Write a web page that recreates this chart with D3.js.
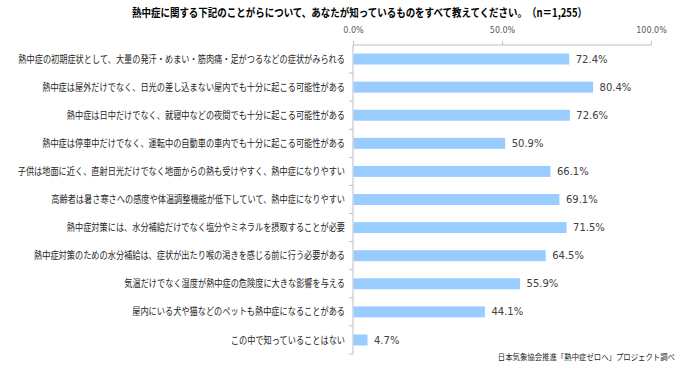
<!DOCTYPE html>
<html><head><meta charset="utf-8">
<script src="https://cdn.jsdelivr.net/npm/d3@7"></script>
<style>
body{margin:0;background:#fff;}
svg{display:block;}
</style></head>
<body>
<svg id="chart" width="680" height="370"></svg>
<script>
const categories = [
  "熱中症の初期症状として、大量の発汗・めまい・筋肉痛・足がつるなどの症状がみられる",
  "熱中症は屋外だけでなく、日光の差し込まない屋内でも十分に起こる可能性がある",
  "熱中症は日中だけでなく、就寝中などの夜間でも十分に起こる可能性がある",
  "熱中症は停車中だけでなく、運転中の自動車の車内でも十分に起こる可能性がある",
  "子供は地面に近く、直射日光だけでなく地面からの熱も受けやすく、熱中症になりやすい",
  "高齢者は暑さ寒さへの感度や体温調整機能が低下していて、熱中症になりやすい",
  "熱中症対策には、水分補給だけでなく塩分やミネラルを摂取することが必要",
  "熱中症対策のための水分補給は、症状が出たり喉の渇きを感じる前に行う必要がある",
  "気温だけでなく湿度が熱中症の危険度に大きな影響を与える",
  "屋内にいる犬や猫などのペットも熱中症になることがある",
  "この中で知っていることはない"
];
const values = [72.4, 80.4, 72.6, 50.9, 66.1, 69.1, 71.5, 64.5, 55.9, 44.1, 4.7];
const tickValues = [0, 50, 100];
const titleText = "熱中症に関する下記のことがらについて、あなたが知っているものをすべて教えてください。　（n＝1,255）";
const sourceText = "日本気象協会推進「熱中症ゼロへ」プロジェクト調べ";

const svg = d3.select("#chart");
const jp = "'Noto Sans CJK JP', sans-serif";
const num = "'DejaVu Sans', sans-serif";

const x = d3.scaleLinear().domain([0, 100]).range([353, 651]);
const y = d3.scaleBand().domain(categories).range([45, 354]).paddingInner(0.61).paddingOuter(0.305);

// title
svg.append("text")
  .attr("transform", "translate(132,17) scale(0.825,1)")
  .attr("font-family", jp).attr("font-weight", "bold").attr("font-size", 11.5)
  .attr("fill", "#000").text(titleText);

// top axis
const topAxis = d3.axisTop(x).tickValues(tickValues).tickSize(4).tickFormat(d => d.toFixed(1) + "%");
const gTop = svg.append("g").attr("transform", "translate(0,45)").call(topAxis);
gTop.select(".domain").attr("stroke", "#bfbfbf").attr("d", "M353,0H651");
gTop.selectAll(".tick line").attr("stroke", "#bfbfbf");
gTop.selectAll(".tick text").attr("font-family", num).attr("font-size", 8).attr("fill", "#595959").attr("dy", "-5");

// left axis line & ticks at category boundaries
const step = y.step();
const boundaries = d3.range(categories.length + 1).map(i => 45 + i * step);
svg.append("line").attr("x1", 353).attr("x2", 353).attr("y1", 45).attr("y2", 354).attr("stroke", "#bfbfbf");
svg.selectAll(".ltick").data(boundaries.slice(1)).enter().append("line")
  .attr("x1", 349).attr("x2", 353).attr("y1", d => d).attr("y2", d => d).attr("stroke", "#bfbfbf");

// bars
svg.selectAll(".bar").data(values).enter().append("rect")
  .attr("x", x(0) + 0.5).attr("y", (d, i) => y(categories[i]))
  .attr("width", d => x(d) - x(0)).attr("height", y.bandwidth())
  .attr("fill", "#99CCFF");

// value labels
svg.selectAll(".val").data(values).enter().append("text")
  .attr("x", d => x(d) + 7).attr("y", (d, i) => y(categories[i]) + y.bandwidth() / 2)
  .attr("dy", "0.36em")
  .attr("font-family", num).attr("font-size", 10).attr("fill", "#404040")
  .text(d => d.toFixed(1) + "%");

// category labels
svg.selectAll(".cat").data(categories).enter().append("text")
  .attr("transform", d => `translate(345,${y(d) + y.bandwidth() / 2}) scale(0.82,1)`)
  .attr("text-anchor", "end").attr("dy", "0.36em")
  .attr("font-family", jp).attr("font-size", 10).attr("fill", "#262626")
  .text(d => d);

// source
svg.append("text")
  .attr("transform", "translate(675,360) scale(0.87,1)")
  .attr("text-anchor", "end")
  .attr("font-family", jp).attr("font-size", 8.5).attr("fill", "#262626")
  .text(sourceText);
</script>
</body></html>
